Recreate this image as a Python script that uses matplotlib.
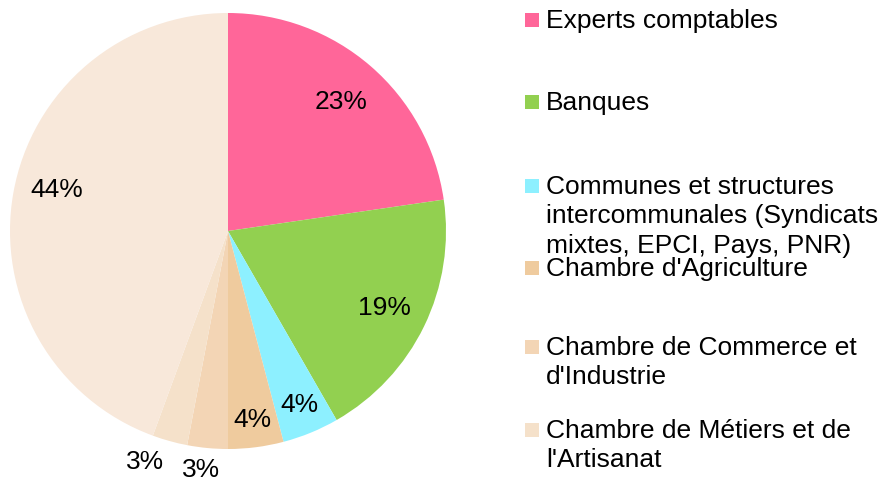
import numpy as np
import matplotlib
matplotlib.use('Agg')
import matplotlib.pyplot as plt
from matplotlib.patches import Rectangle

plt.rcParams['font.family'] = ['Liberation Sans', 'DejaVu Sans']

# slice values (percent), clockwise from 12 o'clock
values = [22.7, 19.0, 4.2, 4.1, 3.0, 2.6, 44.4]
colors = ['#FF6699', '#92D050', '#8DF0FF', '#EFCB9E', '#F3D5B5', '#F5E1CA', '#F8E8DA']
legend_labels = ['Experts comptables',
                 'Banques',
                 'Communes et structures\nintercommunales (Syndicats\nmixtes, EPCI, Pays, PNR)',
                 "Chambre d'Agriculture",
                 'Chambre de Commerce et\nd\'Industrie',
                 'Chambre de Métiers et de\nl\'Artisanat']
# where each percent label sits: fraction of radius, small angle nudge (deg)
label_dist = [0.79, 0.80, 0.86, 0.87, 1.10, 1.12, 0.81]
label_shift = [0, 0, 0, 0, -1.1, -4.3, -3.7]
# legend rows: pixel y of first line centre
legend_y = [21, 103, 187, 269, 348, 431]

FS = 19
W, H = 883, 481
fig = plt.figure(figsize=(W / 100, H / 100), dpi=100)
cx, cy, r = 228, 232, 218
ax = fig.add_axes([(cx - r) / W, (H - cy - r) / H, 2 * r / W, 2 * r / H])

wedges, _ = ax.pie(values, colors=colors, startangle=90, counterclock=False,
                   radius=1, wedgeprops=dict(linewidth=0))
ax.set_xlim(-1, 1)
ax.set_ylim(-1, 1)
ax.set_aspect('equal')

for w, v, d, s in zip(wedges, values, label_dist, label_shift):
    ang = np.deg2rad((w.theta1 + w.theta2) / 2 + s)
    ax.text(d * np.cos(ang), d * np.sin(ang), '%.0f%%' % v,
            ha='center', va='center', fontsize=FS, color='black')

# legend drawn by hand to keep the odd row spacing
for lab, col, y in zip(legend_labels, colors, legend_y):
    fig.patches.append(Rectangle((525 / W, (H - y - 7) / H), 14 / W, 14 / H,
                                 transform=fig.transFigure, facecolor=col,
                                 edgecolor='none'))
    fig.text(546 / W, (H - y) / H, lab.split('\n')[0], ha='left', va='center',
             fontsize=FS)
    for k, extra in enumerate(lab.split('\n')[1:]):
        fig.text(546 / W, (H - y - 29.5 * (k + 1)) / H, extra, ha='left',
                 va='center', fontsize=FS)

fig.savefig('out.png', dpi=100)
